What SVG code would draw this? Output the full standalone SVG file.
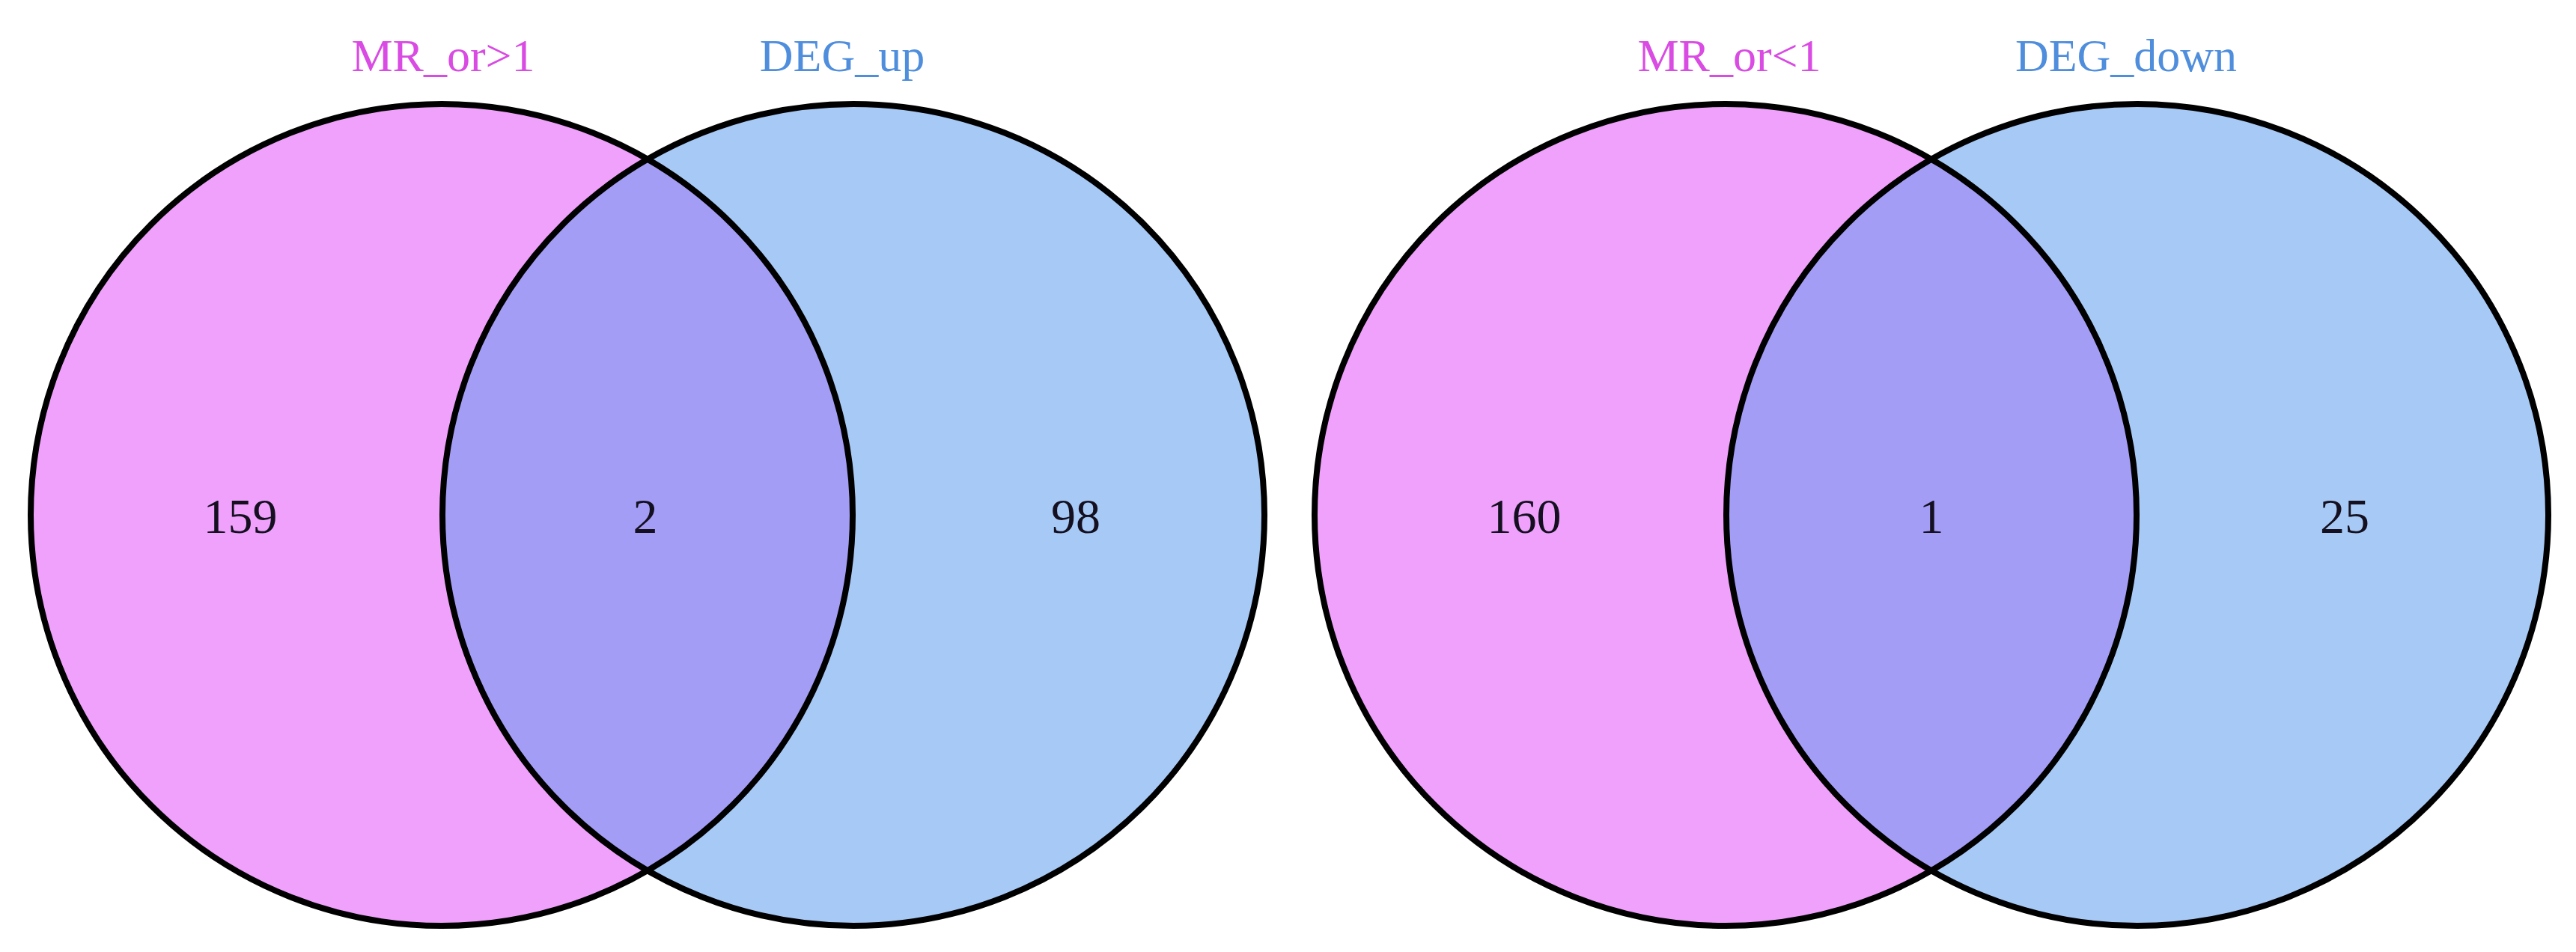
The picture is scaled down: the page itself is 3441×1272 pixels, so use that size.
<svg xmlns="http://www.w3.org/2000/svg" width="3441" height="1272" viewBox="0 0 3441 1272">
  <style>
    .set { stroke: none; }
    .pink { fill: #EFA1FB; }
    .blue { fill: #A7C9F6; }
    .both { fill: #A39DF6; }
    .ring { fill: none; stroke: #000; stroke-width: 8; }
    .num { font-family: "Liberation Serif", "Times New Roman", serif; font-size: 66px; fill: #141020; text-anchor: middle; }
    .lab { font-family: "Liberation Serif", "Times New Roman", serif; font-size: 62px; text-anchor: middle; }
    .labP { fill: #D94BE3; }
    .labB { fill: #4F8EDD; }
  </style>
  <defs>
    <clipPath id="clipB1"><circle cx="1140" cy="688" r="549"/></clipPath>
    <clipPath id="clipB2"><circle cx="2855" cy="688" r="549"/></clipPath>
  </defs>

  <g id="venn-up">
    <g id="set-mr-or-gt1">
      <circle class="set pink" cx="590" cy="688" r="549"/>
    </g>
    <g id="set-deg-up">
      <circle class="set blue" cx="1140" cy="688" r="549"/>
    </g>
    <g id="overlap-up">
      <circle class="set both" cx="590" cy="688" r="549" clip-path="url(#clipB1)"/>
    </g>
    <circle class="ring" cx="590" cy="688" r="549"/>
    <circle class="ring" cx="1140" cy="688" r="549"/>
    <text class="lab labP" x="592" y="95">MR_or&gt;1</text>
    <text class="lab labB" x="1125" y="95">DEG_up</text>
    <text class="num" x="321" y="712">159</text>
    <text class="num" x="862" y="712">2</text>
    <text class="num" x="1437" y="712">98</text>
  </g>

  <g id="venn-down">
    <g id="set-mr-or-lt1">
      <circle class="set pink" cx="2305" cy="688" r="549"/>
    </g>
    <g id="set-deg-down">
      <circle class="set blue" cx="2855" cy="688" r="549"/>
    </g>
    <g id="overlap-down">
      <circle class="set both" cx="2305" cy="688" r="549" clip-path="url(#clipB2)"/>
    </g>
    <circle class="ring" cx="2305" cy="688" r="549"/>
    <circle class="ring" cx="2855" cy="688" r="549"/>
    <text class="lab labP" x="2310" y="95">MR_or&lt;1</text>
    <text class="lab labB" x="2840" y="95">DEG_down</text>
    <text class="num" x="2036" y="712">160</text>
    <text class="num" x="2580" y="712">1</text>
    <text class="num" x="3132" y="712">25</text>
  </g>

  <g id="connectors"></g>
</svg>
